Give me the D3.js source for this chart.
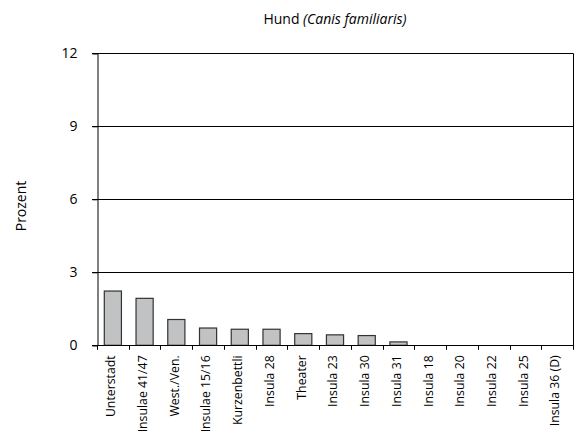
<!DOCTYPE html>
<html><head><meta charset="utf-8">
<script src="https://cdn.jsdelivr.net/npm/d3@7"></script>
<style>body{margin:0;background:#fff}svg{display:block}text{font-family:"Open Sans",sans-serif;fill:#000}</style>
</head><body><svg id="c" width="578" height="438"></svg>
<script>
const categories = ["Unterstadt","Insulae 41/47","West./Ven.","Insulae 15/16","Kurzenbettli","Insula 28","Theater","Insula 23","Insula 30","Insula 31","Insula 18","Insula 20","Insula 22","Insula 25","Insula 36 (D)"];
const values = [2.23,1.93,1.06,0.71,0.66,0.66,0.48,0.43,0.40,0.14,0,0,0,0,0];
const yTicks = [0,3,6,9,12];

const svg = d3.select("#c");
const m = {l:97, r:573, t:53.3, b:345.3};
const x = d3.scaleBand().domain(categories).range([m.l, m.r]).paddingInner(0).paddingOuter(0);
const y = d3.scaleLinear().domain([0,12]).range([m.b, m.t]);

// gridlines
svg.append("g").selectAll("line").data(yTicks.filter(d=>d>0)).join("line")
  .attr("x1", m.l-5).attr("x2", m.r).attr("y1", d=>Math.round(y(d))+0.5).attr("y2", d=>Math.round(y(d))+0.5)
  .attr("stroke","#000").attr("stroke-width",1);

// y axis
const yAxis = d3.axisLeft(y).tickValues(yTicks).tickSize(5).tickPadding(15);
const gy = svg.append("g").attr("transform",`translate(${m.l+0.5},0)`).call(yAxis);
gy.select(".domain").attr("stroke","#000");
gy.selectAll("text").attr("font-size",14).style("font-family","'Open Sans',sans-serif");

// right border
svg.append("line").attr("x1",m.r+0.5).attr("x2",m.r+0.5).attr("y1",y(12)).attr("y2",y(0)).attr("stroke","#000");

// bars
const bw = x.bandwidth()*0.54;
svg.append("g").selectAll("rect").data(values.map((v,i)=>({c:categories[i],v})).filter(d=>d.v>0)).join("rect")
  .attr("x", d=>x(d.c)+(x.bandwidth()-bw)/2).attr("width", bw)
  .attr("y", d=>y(d.v)).attr("height", d=>y(0)-y(d.v))
  .attr("fill","#c0c2c4").attr("stroke","#333").attr("stroke-width",1.2);

// x axis baseline and ticks
const gx = svg.append("g");
gx.append("line").attr("x1",m.l-5).attr("x2",m.r+0.5).attr("y1",Math.round(y(0))+0.5).attr("y2",Math.round(y(0))+0.5).attr("stroke","#000");
const bounds = categories.map(c=>x(c)).concat([m.r]);
gx.selectAll("line.t").data(bounds).join("line").attr("class","t")
  .attr("x1",d=>Math.round(d)+0.5).attr("x2",d=>Math.round(d)+0.5)
  .attr("y1",y(0)).attr("y2",y(0)+4.5).attr("stroke","#000");
gx.selectAll("text").data(categories).join("text")
  .attr("transform", d=>`translate(${x(d)+x.bandwidth()/2-2},${y(0)+10}) rotate(-90)`)
  .attr("text-anchor","end").attr("dy","0.35em").attr("font-size",12.3).text(d=>d);

// y label
svg.append("text").attr("transform","translate(21,206) rotate(-90)").attr("text-anchor","middle")
  .attr("dy","0.35em").attr("font-size",14).text("Prozent");

// title
const t = svg.append("text").attr("x",(m.l+m.r)/2).attr("y",24).attr("text-anchor","middle").attr("font-size",14);
t.append("tspan").text("Hund ");
t.append("tspan").attr("font-style","italic").text("(Canis familiaris)");
</script></body></html>
